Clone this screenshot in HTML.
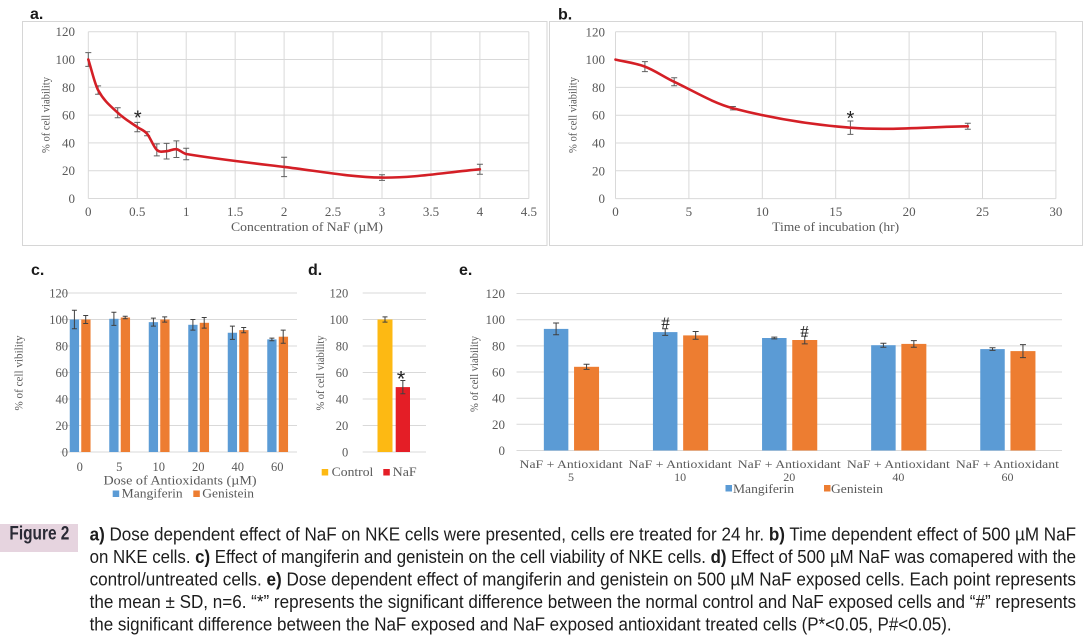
<!DOCTYPE html>
<html><head><meta charset="utf-8"><style>html,body{margin:0;padding:0;background:#fff;width:1085px;height:641px;overflow:hidden}svg{display:block}</style></head>
<body>
<svg width="1085" height="641" viewBox="0 0 1085 641" xmlns="http://www.w3.org/2000/svg">
<rect x="0" y="0" width="1085" height="641" fill="#fff"/>
<!-- Panel labels -->
<g font-family="'Liberation Sans', Arial, sans-serif" font-weight="bold" font-size="16" fill="#1a1a1a">
<text x="30" y="19">a.</text><text x="558" y="19.5">b.</text>
<text x="31" y="275">c.</text><text x="308" y="275">d.</text><text x="459" y="275">e.</text>
</g>
<!-- Frames -->
<rect x="22.5" y="21.5" width="524.5" height="224" fill="none" stroke="#d6d6d6" stroke-width="1"/>
<rect x="549.5" y="21.5" width="533" height="224" fill="none" stroke="#d6d6d6" stroke-width="1"/>

<!-- PANEL A -->
<g stroke="#d9d9d9" stroke-width="1" fill="none">
<path d="M88.3,198.5H528.9M88.3,170.7H528.9M88.3,142.9H528.9M88.3,115.1H528.9M88.3,87.3H528.9M88.3,59.5H528.9M88.3,31.7H528.9"/>
<path d="M88.3,31.7V198.5M137.25,31.7V198.5M186.2,31.7V198.5M235.15,31.7V198.5M284.1,31.7V198.5M333.05,31.7V198.5M382,31.7V198.5M430.95,31.7V198.5M479.9,31.7V198.5M528.85,31.7V198.5"/>
</g>
<g font-family="'Liberation Serif', serif" font-size="13" fill="#595959" text-anchor="end">
<text x="75" y="203">0</text><text x="75" y="175.2">20</text><text x="75" y="147.4">40</text><text x="75" y="119.6">60</text><text x="75" y="91.8">80</text><text x="75" y="64">100</text><text x="75" y="36.2">120</text>
</g>
<g font-family="'Liberation Serif', serif" font-size="13" fill="#595959" text-anchor="middle">
<text x="88.3" y="216">0</text><text x="137.25" y="216">0.5</text><text x="186.2" y="216">1</text><text x="235.15" y="216">1.5</text><text x="284.1" y="216">2</text><text x="333.05" y="216">2.5</text><text x="382" y="216">3</text><text x="430.95" y="216">3.5</text><text x="479.9" y="216">4</text><text x="528.85" y="216">4.5</text>
<text x="307" y="231" font-size="12.5" textLength="152" lengthAdjust="spacingAndGlyphs">Concentration of NaF (µM)</text>
<text transform="translate(45.5,115) rotate(-90)" y="4" font-size="11.5" textLength="76" lengthAdjust="spacingAndGlyphs">% of cell viability</text>
</g>
<path d="M88.3,52.6V66.4M85.3,52.6H91.3M85.3,66.4H91.3 M98.1,85.9V94.3M95.1,85.9H101.1M95.1,94.3H101.1 M117.7,107.7V117.7M114.7,107.7H120.7M114.7,117.7H120.7 M137.3,122.4V131.8M134.3,122.4H140.3M134.3,131.8H140.3 M147.1,131.8V135.8M144.1,131.8H150.1M144.1,135.8H150.1 M156.8,143.9V155.9M153.8,143.9H159.8M153.8,155.9H159.8 M166.6,143.4V159M163.6,143.4H169.6M163.6,159H169.6 M176.4,140.9V157.5M173.4,140.9H179.4M173.4,157.5H179.4 M186.2,148.2V159.8M183.2,148.2H189.2M183.2,159.8H189.2 M284.1,157.2V176.6M281.1,157.2H287.1M281.1,176.6H287.1 M382,174.8V180.4M379,174.8H385M379,180.4H385 M479.9,164.3V174.3M476.9,164.3H482.9M476.9,174.3H482.9" stroke="#606060" stroke-width="1" fill="none"/>
<path d="M88.3,59.5 C91.57,69.7 94.83,84.2 98.1,90.1 C104.63,101.9 111.17,106.5 117.7,112.7 C124.23,118.9 130.77,122.4 137.3,127.1 C140.57,129.4 143.83,130.0 147.1,133.8 C150.33,137.6 153.57,147.0 156.8,149.9 C160.07,152.8 163.33,151.3 166.6,151.2 C169.87,151.1 173.13,148.7 176.4,149.2 C179.67,149.7 182.93,153.5 186.2,154.0 C218.83,159.4 251.47,163.0 284.1,166.9 C316.73,170.8 349.37,177.2 382.0,177.6 C414.63,178.0 447.27,172.1 479.9,169.3" stroke="#d41f26" stroke-width="2.6" fill="none" stroke-linejoin="round" stroke-linecap="round"/>
<text x="137.8" y="124.5" font-family="'Liberation Sans', sans-serif" font-size="20" fill="#222" text-anchor="middle">*</text>

<!-- PANEL B -->
<g stroke="#d9d9d9" stroke-width="1" fill="none">
<path d="M615.5,198.6H1055.9M615.5,170.8H1055.9M615.5,143H1055.9M615.5,115.2H1055.9M615.5,87.4H1055.9M615.5,59.6H1055.9M615.5,31.8H1055.9"/>
<path d="M615.5,31.8V198.6M688.9,31.8V198.6M762.3,31.8V198.6M835.7,31.8V198.6M909.1,31.8V198.6M982.5,31.8V198.6M1055.9,31.8V198.6"/>
</g>
<g font-family="'Liberation Serif', serif" font-size="13" fill="#595959" text-anchor="end">
<text x="605" y="203.1">0</text><text x="605" y="175.3">20</text><text x="605" y="147.5">40</text><text x="605" y="119.7">60</text><text x="605" y="91.9">80</text><text x="605" y="64.1">100</text><text x="605" y="36.3">120</text>
</g>
<g font-family="'Liberation Serif', serif" font-size="13" fill="#595959" text-anchor="middle">
<text x="615.5" y="216">0</text><text x="688.9" y="216">5</text><text x="762.3" y="216">10</text><text x="835.7" y="216">15</text><text x="909.1" y="216">20</text><text x="982.5" y="216">25</text><text x="1055.9" y="216">30</text>
<text x="835.7" y="231" font-size="12.5" textLength="127" lengthAdjust="spacingAndGlyphs">Time of incubation (hr)</text>
<text transform="translate(572.5,115) rotate(-90)" y="4" font-size="11.5" textLength="76" lengthAdjust="spacingAndGlyphs">% of cell viability</text>
</g>
<path d="M644.9,61.6V71.6M641.9,61.6H647.9M641.9,71.6H647.9 M674.2,77.8V85.8M671.2,77.8H677.2M671.2,85.8H677.2 M732.9,106.5V109.9M729.9,106.5H735.9M729.9,109.9H735.9 M850.4,121V134.4M847.4,121H853.4M847.4,134.4H853.4 M967.8,123.3V129.3M964.8,123.3H970.8M964.8,129.3H970.8" stroke="#606060" stroke-width="1" fill="none"/>
<path d="M615.5,59.6 C625.3,61.9 635.1,62.9 644.9,66.6 C654.7,70.3 664.4,77.2 674.2,81.8 C693.8,91.1 713.3,103.1 732.9,108.2 C772.1,118.4 811.2,124.7 850.4,127.7 C889.5,130.7 928.7,126.8 967.8,126.3" stroke="#d41f26" stroke-width="2.6" fill="none" stroke-linejoin="round" stroke-linecap="round"/>
<text x="850.4" y="124.8" font-family="'Liberation Sans', sans-serif" font-size="20" fill="#222" text-anchor="middle">*</text>

<!-- PANEL C -->
<path d="M60,452H297M60,425.5H297M60,399H297M60,372.5H297M60,346H297M60,319.5H297M60,293H297" stroke="#d9d9d9" stroke-width="1" fill="none"/>
<g fill="#5b9bd5">
<rect x="69.75" y="319.5" width="9.3" height="132.5"/><rect x="109.25" y="318.8" width="9.3" height="133.2"/><rect x="148.75" y="322.15" width="9.3" height="129.85"/><rect x="188.25" y="324.8" width="9.3" height="127.2"/><rect x="227.75" y="332.75" width="9.3" height="119.25"/><rect x="267.25" y="339.4" width="9.3" height="112.6"/>
</g>
<g fill="#ed7d31">
<rect x="81.25" y="319.5" width="9.3" height="132.5"/><rect x="120.75" y="317.5" width="9.3" height="134.5"/><rect x="160.25" y="319.5" width="9.3" height="132.5"/><rect x="199.75" y="322.8" width="9.3" height="129.2"/><rect x="239.25" y="330.1" width="9.3" height="121.9"/><rect x="278.75" y="336.7" width="9.3" height="115.3"/>
</g>
<path d="M74.4,310.2V328.8M71.9,310.2H76.9M71.9,328.8H76.9 M113.9,312.2V325.4M111.4,312.2H116.4M111.4,325.4H116.4 M153.4,318.15V326.15M150.9,318.15H155.9M150.9,326.15H155.9 M192.9,319.5V330.1M190.4,319.5H195.4M190.4,330.1H195.4 M232.4,326.15V339.35M229.9,326.15H234.9M229.9,339.35H234.9 M271.9,338.1V340.7M269.4,338.1H274.4M269.4,340.7H274.4 M85.7,315.5V323.5M83.2,315.5H88.2M83.2,323.5H88.2 M125.2,316.2V318.8M122.7,316.2H127.7M122.7,318.8H127.7 M164.7,316.85V322.15M162.2,316.85H167.2M162.2,322.15H167.2 M204.2,317.5V328.1M201.7,317.5H206.7M201.7,328.1H206.7 M243.7,327.45V332.75M241.2,327.45H246.2M241.2,332.75H246.2 M283.2,330.1V343.3M280.7,330.1H285.7M280.7,343.3H285.7" stroke="#404040" stroke-width="1" fill="none"/>
<g font-family="'Liberation Serif', serif" font-size="12.5" fill="#595959" text-anchor="end">
<text x="68" y="456.3">0</text><text x="68" y="429.8">20</text><text x="68" y="403.3">40</text><text x="68" y="376.8">60</text><text x="68" y="350.3">80</text><text x="68" y="323.8">100</text><text x="68" y="297.3">120</text>
</g>
<g font-family="'Liberation Serif', serif" font-size="12.5" fill="#595959" text-anchor="middle">
<text x="79.75" y="471">0</text><text x="119.25" y="471">5</text><text x="158.75" y="471">10</text><text x="198.25" y="471">20</text><text x="237.75" y="471">40</text><text x="277.25" y="471">60</text>
<text x="180" y="484.5" font-size="13" textLength="153" lengthAdjust="spacingAndGlyphs">Dose of Antioxidants (µM)</text>
<text transform="translate(18.3,373) rotate(-90)" y="4" font-size="11.5" textLength="75" lengthAdjust="spacingAndGlyphs">% of cell vibility</text>
</g>
<rect x="112.7" y="490.5" width="6.5" height="6.5" fill="#5b9bd5"/>
<rect x="193.3" y="490.5" width="6.5" height="6.5" fill="#ed7d31"/>
<g font-family="'Liberation Serif', serif" font-size="13" fill="#595959">
<text x="121.7" y="497.5" textLength="61" lengthAdjust="spacingAndGlyphs">Mangiferin</text>
<text x="202.3" y="497.5" textLength="51.7" lengthAdjust="spacingAndGlyphs">Genistein</text>
</g>

<!-- PANEL D -->
<path d="M362.7,452H426M362.7,425.5H426M362.7,399H426M362.7,372.5H426M362.7,346H426M362.7,319.5H426M362.7,293H426" stroke="#d9d9d9" stroke-width="1" fill="none"/>
<rect x="377.5" y="319.5" width="15" height="132.5" fill="#fdb913"/>
<rect x="395.7" y="387.1" width="14.3" height="64.9" fill="#e41e26"/>
<path d="M385,316.85V322.15M382.5,316.85H387.5M382.5,322.15H387.5 M402.85,380.5V393.7M400.35,380.5H405.35M400.35,393.7H405.35" stroke="#404040" stroke-width="1" fill="none"/>
<text x="401" y="386.5" font-family="'Liberation Sans', sans-serif" font-size="22" fill="#222" text-anchor="middle">*</text>
<g font-family="'Liberation Serif', serif" font-size="12.5" fill="#595959" text-anchor="end">
<text x="348.3" y="456.3">0</text><text x="348.3" y="429.8">20</text><text x="348.3" y="403.3">40</text><text x="348.3" y="376.8">60</text><text x="348.3" y="350.3">80</text><text x="348.3" y="323.8">100</text><text x="348.3" y="297.3">120</text>
</g>
<text transform="translate(320,373) rotate(-90)" y="4" font-family="'Liberation Serif', serif" font-size="11.5" fill="#595959" text-anchor="middle" textLength="75" lengthAdjust="spacingAndGlyphs">% of cell viability</text>
<rect x="321.7" y="469" width="6.5" height="6.5" fill="#fdb913"/>
<rect x="383.3" y="469" width="6.5" height="6.5" fill="#e41e26"/>
<g font-family="'Liberation Serif', serif" font-size="13" fill="#595959">
<text x="331.7" y="476" textLength="41.6" lengthAdjust="spacingAndGlyphs">Control</text>
<text x="392.7" y="476" textLength="24" lengthAdjust="spacingAndGlyphs">NaF</text>
</g>

<!-- PANEL E -->
<path d="M516.5,450.5H1062M516.5,424.3H1062M516.5,398.2H1062M516.5,372H1062M516.5,345.9H1062M516.5,319.7H1062M516.5,293.5H1062" stroke="#d9d9d9" stroke-width="1" fill="none"/>
<g fill="#5b9bd5">
<rect x="543.85" y="328.9" width="24.5" height="121.6"/><rect x="652.95" y="332.1" width="24.5" height="118.4"/><rect x="762.05" y="338" width="24.5" height="112.5"/><rect x="871.15" y="345.2" width="24.5" height="105.3"/><rect x="980.25" y="349.1" width="24.5" height="101.4"/>
</g>
<g fill="#ed7d31">
<rect x="574.05" y="366.8" width="25" height="83.7"/><rect x="683.15" y="335.4" width="25" height="115.1"/><rect x="792.25" y="340" width="25" height="110.5"/><rect x="901.35" y="343.9" width="25" height="106.6"/><rect x="1010.45" y="351.1" width="25" height="99.4"/>
</g>
<path d="M556.1,323V334.8M553.1,323H559.1M553.1,334.8H559.1 M665.2,328.8V335.4M662.2,328.8H668.2M662.2,335.4H668.2 M774.3,337.1V338.9M771.3,337.1H777.3M771.3,338.9H777.3 M883.4,343.2V347.2M880.4,343.2H886.4M880.4,347.2H886.4 M992.5,347.8V350.4M989.5,347.8H995.5M989.5,350.4H995.5 M586.55,364.2V369.4M583.55,364.2H589.55M583.55,369.4H589.55 M695.65,331.5V339.3M692.65,331.5H698.65M692.65,339.3H698.65 M804.75,336.1V343.9M801.75,336.1H807.75M801.75,343.9H807.75 M913.85,340.6V347.2M910.85,340.6H916.85M910.85,347.2H916.85 M1022.95,344.6V357.6M1019.95,344.6H1025.95M1019.95,357.6H1025.95" stroke="#404040" stroke-width="1" fill="none"/>
<g font-family="'Liberation Serif', serif" font-size="17" fill="#222" text-anchor="middle">
<text x="665.5" y="328.5">#</text><text x="804.5" y="337">#</text>
</g>
<g font-family="'Liberation Serif', serif" font-size="13" fill="#595959" text-anchor="end">
<text x="505" y="455">0</text><text x="505" y="428.8">20</text><text x="505" y="402.7">40</text><text x="505" y="376.5">60</text><text x="505" y="350.4">80</text><text x="505" y="324.2">100</text><text x="505" y="298">120</text>
</g>
<text transform="translate(474,374) rotate(-90)" y="4" font-family="'Liberation Serif', serif" font-size="11.5" fill="#595959" text-anchor="middle" textLength="76" lengthAdjust="spacingAndGlyphs">% of cell viability</text>
<g font-family="'Liberation Serif', serif" font-size="12" fill="#595959" text-anchor="middle">
<text x="571.05" y="468" textLength="103" lengthAdjust="spacingAndGlyphs">NaF + Antioxidant</text>
<text x="680.15" y="468" textLength="103" lengthAdjust="spacingAndGlyphs">NaF + Antioxidant</text>
<text x="789.25" y="468" textLength="103" lengthAdjust="spacingAndGlyphs">NaF + Antioxidant</text>
<text x="898.35" y="468" textLength="103" lengthAdjust="spacingAndGlyphs">NaF + Antioxidant</text>
<text x="1007.45" y="468" textLength="103" lengthAdjust="spacingAndGlyphs">NaF + Antioxidant</text>
<text x="571.05" y="481">5</text><text x="680.15" y="481">10</text><text x="789.25" y="481">20</text><text x="898.35" y="481">40</text><text x="1007.45" y="481">60</text>
</g>
<rect x="725.5" y="485" width="6.5" height="6.5" fill="#5b9bd5"/>
<rect x="824" y="485" width="6.5" height="6.5" fill="#ed7d31"/>
<g font-family="'Liberation Serif', serif" font-size="13" fill="#595959">
<text x="733" y="493" textLength="61" lengthAdjust="spacingAndGlyphs">Mangiferin</text>
<text x="831" y="493" textLength="52" lengthAdjust="spacingAndGlyphs">Genistein</text>
</g>

<!-- CAPTION -->
<rect x="0" y="524" width="78" height="28" fill="#e6d4df"/>
<text x="9.4" y="539.5" font-family="'Liberation Sans', Arial, sans-serif" font-weight="bold" font-size="19" fill="#2a2a35" textLength="60" lengthAdjust="spacingAndGlyphs">Figure 2</text>
<g font-family="'Liberation Sans', Arial, sans-serif" font-size="18.5" fill="#1c1c1c">
<text x="89.6" y="540.3" textLength="986.4" lengthAdjust="spacingAndGlyphs"><tspan font-weight="bold">a)</tspan> Dose dependent effect of NaF on NKE cells were presented, cells ere treated for 24 hr. <tspan font-weight="bold">b)</tspan> Time dependent effect of 500 µM NaF</text>
<text x="89.6" y="562.8" textLength="986.4" lengthAdjust="spacingAndGlyphs">on NKE cells. <tspan font-weight="bold">c)</tspan> Effect of mangiferin and genistein on the cell viability of NKE cells. <tspan font-weight="bold">d)</tspan> Effect of 500 µM NaF was comapered with the</text>
<text x="89.6" y="585.3" textLength="986.4" lengthAdjust="spacingAndGlyphs">control/untreated cells. <tspan font-weight="bold">e)</tspan> Dose dependent effect of mangiferin and genistein on 500 µM NaF exposed cells. Each point represents</text>
<text x="89.6" y="607.8" textLength="986.4" lengthAdjust="spacingAndGlyphs">the mean ± SD, n=6. “*” represents the significant difference between the normal control and NaF exposed cells and “#” represents</text>
<text x="89.6" y="630.3" textLength="862" lengthAdjust="spacingAndGlyphs">the significant difference between the NaF exposed and NaF exposed antioxidant treated cells (P*&lt;0.05, P#&lt;0.05).</text>
</g>
</svg>
</body></html>
